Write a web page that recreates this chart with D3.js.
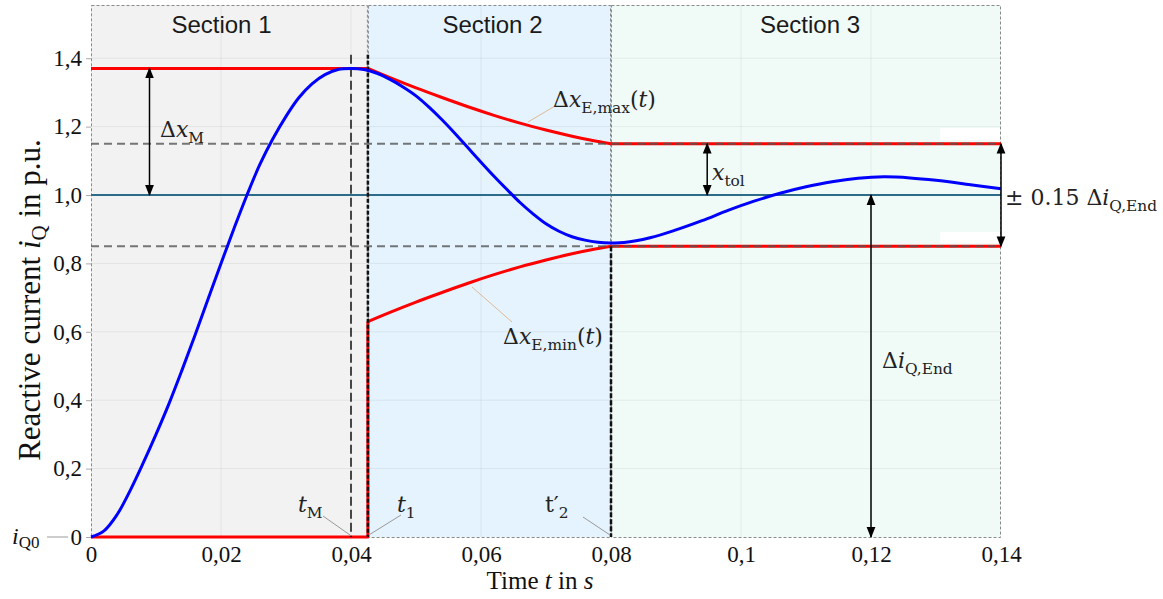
<!DOCTYPE html>
<html>
<head>
<meta charset="utf-8">
<script src="https://cdn.jsdelivr.net/npm/d3@7"></script>
<style>
  html, body { margin: 0; padding: 0; background: #ffffff; }
  svg { display: block; }
</style>
</head>
<body>
<svg id="chart" width="1163" height="599"></svg>
<script>
// ---- data ----
const xTicks = [0, 0.02, 0.04, 0.06, 0.08, 0.1, 0.12, 0.14];
const xTickLabels = ["0", "0,02", "0,04", "0,06", "0,08", "0,1", "0,12", "0,14"];
const yTicks = [0, 0.2, 0.4, 0.6, 0.8, 1.0, 1.2, 1.4];
const yTickLabels = ["0", "0,2", "0,4", "0,6", "0,8", "1,0", "1,2", "1,4"];

const sectionNames = ["Section 1", "Section 2", "Section 3"];
const sectionStart = [0, 0.0426, 0.08];
const sectionEnd = [0.0426, 0.08, 0.14];

// measured reactive current i_Q(t)
const currentT = [0, 0.002, 0.004, 0.006, 0.008, 0.010, 0.012, 0.014, 0.016, 0.018,
  0.020, 0.022, 0.024, 0.026, 0.028, 0.030, 0.032, 0.034, 0.036, 0.038,
  0.040, 0.042, 0.044, 0.046, 0.048, 0.050, 0.052, 0.054, 0.056, 0.058,
  0.060, 0.062, 0.064, 0.066, 0.068, 0.070, 0.072, 0.074, 0.076, 0.078,
  0.080, 0.082, 0.086, 0.090, 0.094, 0.098, 0.102, 0.106, 0.110, 0.114,
  0.118, 0.122, 0.126, 0.130, 0.135, 0.140];
const currentI = [0, 0.018, 0.065, 0.135, 0.215, 0.30, 0.39, 0.488, 0.59, 0.695,
  0.80, 0.902, 1.0, 1.09, 1.165, 1.23, 1.285, 1.325, 1.352, 1.367,
  1.37, 1.367, 1.356, 1.338, 1.316, 1.29, 1.257, 1.22, 1.18, 1.138,
  1.096, 1.055, 1.016, 0.978, 0.945, 0.916, 0.894, 0.878, 0.868, 0.862,
  0.86, 0.861, 0.875, 0.898, 0.925, 0.955, 0.982, 1.005, 1.024, 1.039,
  1.049, 1.053, 1.05, 1.043, 1.031, 1.018];

// tolerance band in Section 2
const bandT = [0.0426, 0.046, 0.05, 0.054, 0.058, 0.062, 0.066, 0.07, 0.074, 0.077, 0.08];
const bandUpper = [1.37, 1.343, 1.313, 1.285, 1.258, 1.233, 1.21, 1.19, 1.172, 1.16, 1.15];
const bandLower = [0.63, 0.657, 0.687, 0.715, 0.742, 0.767, 0.79, 0.81, 0.828, 0.84, 0.85];

const peakValue = 1.37;   // Δx_M level
const tM = 0.04;
const t1 = 0.0426;
const t2 = 0.08;
const tEnd = 0.14;
const finalValue = 1.0;
const tolUpper = 1.15;
const tolLower = 0.85;

// ---- layout ----
const svg = d3.select("#chart");
const x = d3.scaleLinear().domain([0, 0.14]).range([91, 1001]);
const y = d3.scaleLinear().domain([0, 1.4]).range([537, 58.2]);
const yTop = 1.5556;

const serif = "'Liberation Serif', 'Times New Roman', serif";
const mathFont = "'DejaVu Serif', 'Liberation Serif', serif";
const sans = "'Liberation Sans', Arial, sans-serif";

// arrow markers
const defs = svg.append("defs");
function marker(id, orient) {
  defs.append("marker")
    .attr("id", id).attr("viewBox", "0 0 10 10")
    .attr("refX", 9).attr("refY", 5)
    .attr("markerWidth", 11).attr("markerHeight", 11)
    .attr("markerUnits", "userSpaceOnUse")
    .attr("orient", orient)
    .append("path").attr("d", "M0,1 L10,5 L0,9 Z").attr("fill", "#000");
}
marker("arrEnd", "auto");
marker("arrStart", "auto-start-reverse");

// section backgrounds
const sectionFill = ["#f2f2f2", "#e4f3fd", "#f0faf7"];
svg.append("g").selectAll("rect").data(sectionNames).join("rect")
  .attr("x", (d, i) => x(sectionStart[i]))
  .attr("y", y(yTop))
  .attr("width", (d, i) => x(sectionEnd[i]) - x(sectionStart[i]))
  .attr("height", y(0) - y(yTop))
  .attr("fill", (d, i) => sectionFill[i]);

// faint grid
const grid = svg.append("g").attr("stroke", "#000").attr("stroke-opacity", 0.06).attr("stroke-width", 1);
grid.selectAll(".gx").data(xTicks.slice(1, -1)).join("line")
  .attr("x1", d => x(d)).attr("x2", d => x(d))
  .attr("y1", y(yTop)).attr("y2", y(0));
grid.selectAll(".gy").data(yTicks.slice(1)).join("line")
  .attr("x1", x(0)).attr("x2", x(0.14))
  .attr("y1", d => y(d)).attr("y2", d => y(d));

// section frames
svg.append("g").selectAll("rect").data(sectionNames).join("rect")
  .attr("x", (d, i) => x(sectionStart[i]) + 0.5)
  .attr("y", y(yTop) + 0.5)
  .attr("width", (d, i) => x(sectionEnd[i]) - x(sectionStart[i]) - 1)
  .attr("height", y(0) - y(yTop))
  .attr("fill", "none").attr("stroke", "#8a8a8a").attr("stroke-width", 1)
  .attr("stroke-dasharray", "3,2");

// section titles
const titleNudge = [-8, 3, 4];
svg.append("g").selectAll("text").data(sectionNames).join("text")
  .attr("x", (d, i) => (x(sectionStart[i]) + x(sectionEnd[i])) / 2 + titleNudge[i])
  .attr("y", 33)
  .attr("text-anchor", "middle")
  .attr("font-family", sans).attr("font-size", 24).attr("fill", "#1a1a1a")
  .text(d => d);

// axes tick labels
const yAxis = d3.axisLeft(y).tickValues(yTicks).tickFormat((d, i) => yTickLabels[i]).tickSize(5).tickPadding(4);
const gy = svg.append("g").attr("transform", `translate(${x(0)},0)`).call(yAxis);
gy.select(".domain").remove();
gy.selectAll(".tick line").attr("stroke", "#aaaaaa");
gy.selectAll("text").attr("font-family", serif).attr("font-size", 23).attr("fill", "#111");

const xAxis = d3.axisBottom(x).tickValues(xTicks).tickFormat((d, i) => xTickLabels[i]).tickSize(0).tickPadding(9);
const gx = svg.append("g").attr("transform", `translate(0,${y(0)})`).call(xAxis);
gx.select(".domain").remove();
gx.selectAll("text").attr("font-family", serif).attr("font-size", 23).attr("fill", "#111");

// axis titles
const xt = svg.append("text").attr("x", 540).attr("y", 589).attr("text-anchor", "middle")
  .attr("font-family", serif).attr("font-size", 25).attr("fill", "#111");
xt.append("tspan").text("Time ");
xt.append("tspan").attr("font-style", "italic").text("t");
xt.append("tspan").text(" in ");
xt.append("tspan").attr("font-style", "italic").text("s");

const yt = svg.append("text").attr("transform", "translate(40,300) rotate(-90)").attr("text-anchor", "middle")
  .attr("font-family", serif).attr("font-size", 31).attr("fill", "#111");
yt.append("tspan").text("Reactive current ");
yt.append("tspan").attr("font-style", "italic").text("i");
yt.append("tspan").attr("font-size", 21).attr("dy", 6).text("Q");
yt.append("tspan").attr("dy", -6).text(" in p.u.");

// i_Q0 marker at the origin
svg.append("line").attr("x1", 47).attr("x2", 68).attr("y1", y(0)).attr("y2", y(0))
  .attr("stroke", "#999").attr("stroke-width", 1);
const iq0 = svg.append("text").attr("x", 12).attr("y", y(0) + 7)
  .attr("font-family", serif).attr("font-size", 24).attr("fill", "#111");
iq0.append("tspan").attr("font-style", "italic").text("i");
iq0.append("tspan").attr("font-size", 17).attr("dy", 4).text("Q0");

// final value line
svg.append("line").attr("x1", x(0)).attr("x2", x(tEnd))
  .attr("y1", y(finalValue)).attr("y2", y(finalValue))
  .attr("stroke", "#2c6c88").attr("stroke-width", 2);

// tolerance envelope (red)
const line = d3.line().x(d => x(d[0])).y(d => y(d[1]));
const smooth = d3.line().x(d => x(d[0])).y(d => y(d[1])).curve(d3.curveCatmullRom.alpha(0.5));

const upperBand = bandT.map((t, i) => [t, bandUpper[i]]);
const lowerBand = bandT.map((t, i) => [t, bandLower[i]]);
const red = svg.append("g").attr("fill", "none").attr("stroke", "#ff0000").attr("stroke-width", 3)
  .attr("stroke-linejoin", "round");
red.append("path").attr("d", line([[0, peakValue], [t1, peakValue]]));
red.append("path").attr("d", smooth(upperBand));
red.append("path").attr("d", line([[t2, tolUpper], [tEnd, tolUpper]]));
red.append("path").attr("d", line([[0, 0], [t1, 0], [t1, bandLower[0]]]));
red.append("path").attr("d", smooth(lowerBand));
red.append("path").attr("d", line([[t2, tolLower], [tEnd, tolLower]]));

// tolerance limits (grey dashed)
svg.append("g").selectAll("line").data([tolUpper, tolLower]).join("line")
  .attr("x1", x(0)).attr("x2", x(tEnd))
  .attr("y1", d => y(d)).attr("y2", d => y(d))
  .attr("stroke", "#555").attr("stroke-opacity", 0.8).attr("stroke-width", 2)
  .attr("stroke-dasharray", "8,5");

// white masks near the right-hand bracket
svg.append("rect").attr("x", 940).attr("y", 128).attr("width", 60).attr("height", 12).attr("fill", "#fff");
svg.append("rect").attr("x", 940).attr("y", 232).attr("width", 60).attr("height", 11).attr("fill", "#fff");

// time markers
svg.append("line").attr("x1", x(tM)).attr("x2", x(tM)).attr("y1", y(1.41)).attr("y2", y(0))
  .attr("stroke", "#111").attr("stroke-width", 1.5).attr("stroke-dasharray", "9,4");
svg.append("line").attr("x1", x(t1)).attr("x2", x(t1)).attr("y1", y(1.41)).attr("y2", y(0))
  .attr("stroke", "#111").attr("stroke-width", 2.5).attr("stroke-dasharray", "4,2");
svg.append("line").attr("x1", x(t2)).attr("x2", x(t2)).attr("y1", y(tolLower)).attr("y2", y(0))
  .attr("stroke", "#111").attr("stroke-width", 2.5).attr("stroke-dasharray", "5,2");

// measured current
svg.append("path")
  .attr("d", smooth(currentT.map((t, i) => [t, currentI[i]])))
  .attr("fill", "none").attr("stroke", "#0000ff").attr("stroke-width", 3);

// dimension arrows
function arrow(t, v0, v1) {
  svg.append("line")
    .attr("x1", x(t)).attr("x2", x(t)).attr("y1", y(v0)).attr("y2", y(v1))
    .attr("stroke", "#000").attr("stroke-width", 1.5)
    .attr("marker-start", "url(#arrStart)").attr("marker-end", "url(#arrEnd)");
}
arrow(0.009, peakValue, finalValue);
arrow(0.0948, tolUpper, finalValue);
arrow(tEnd, tolUpper, tolLower);
arrow(0.12, 0, finalValue);

// leader lines
function leader(x1, y1, x2, y2, color) {
  svg.append("line").attr("x1", x1).attr("y1", y1).attr("x2", x2).attr("y2", y2)
    .attr("stroke", color).attr("stroke-width", 1);
}
leader(555, 106, 528, 122, "#e0b896");
leader(512, 322, 472, 287, "#e0b896");
leader(323, 516, x(tM) - 1, 535, "#999");
leader(401, 515, x(t1) + 1, 535, "#999");
leader(583, 517, x(t2) - 1, 535, "#999");

// math labels
function mathLabel(px, py, parts, size) {
  const t = svg.append("text").attr("x", px).attr("y", py)
    .attr("font-family", mathFont).attr("font-size", size).attr("fill", "#222");
  let shift = 0;
  parts.forEach(p => {
    const sp = t.append("tspan").text(p.s);
    if (p.i) sp.attr("font-style", "italic");
    const target = p.sub ? 6 : 0;
    if (target !== shift) { sp.attr("dy", target - shift); shift = target; }
    if (p.sub) sp.attr("font-size", size * 0.7);
  });
  return t;
}
mathLabel(160, 137, [{ s: "Δ" }, { s: "x", i: true }, { s: "M", sub: true }], 22);
mathLabel(553, 107, [{ s: "Δ" }, { s: "x", i: true }, { s: "E,max", sub: true }, { s: "(" }, { s: "t", i: true }, { s: ")" }], 22);
mathLabel(503, 344, [{ s: "Δ" }, { s: "x", i: true }, { s: "E,min", sub: true }, { s: "(" }, { s: "t", i: true }, { s: ")" }], 22);
mathLabel(712, 180, [{ s: "x", i: true }, { s: "tol", sub: true }], 22);
mathLabel(1005, 205, [{ s: "± 0.15 Δ" }, { s: "i", i: true }, { s: "Q,End", sub: true }], 22);
mathLabel(882, 368, [{ s: "Δ" }, { s: "i", i: true }, { s: "Q,End", sub: true }], 22);
mathLabel(298, 512, [{ s: "t", i: true }, { s: "M", sub: true }], 22);
mathLabel(397, 512, [{ s: "t", i: true }, { s: "1", sub: true }], 22);
mathLabel(545, 512, [{ s: "t′" }, { s: "2", sub: true }], 22);
</script>
</body>
</html>
